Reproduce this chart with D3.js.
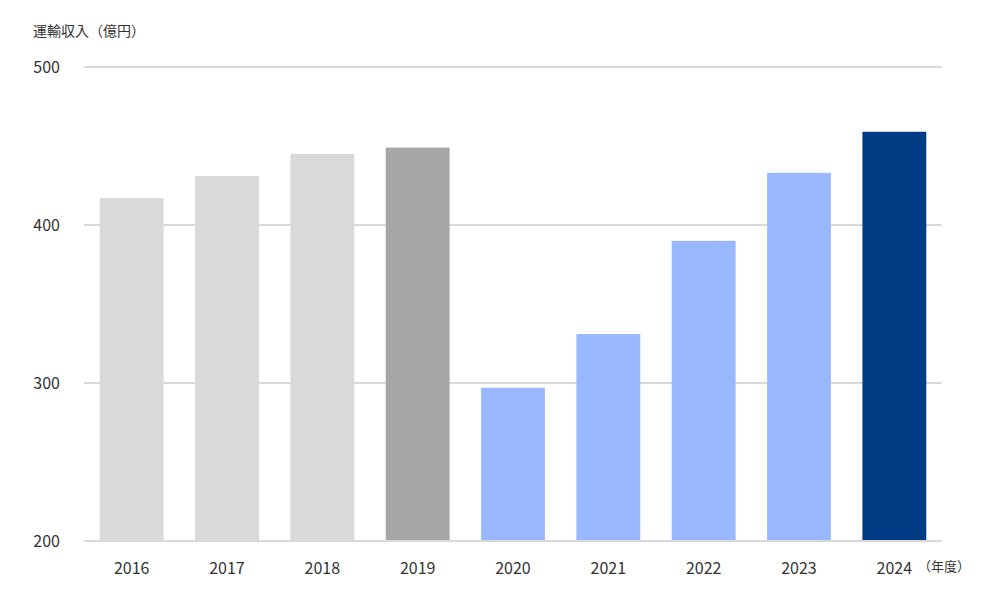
<!DOCTYPE html><html><head><meta charset="utf-8"><script src="https://cdn.jsdelivr.net/npm/d3@7"></script>
<style>body{margin:0;background:#fff}text{font-family:"Noto Sans CJK JP","Noto Sans",sans-serif;fill:#333}</style></head><body>
<svg id="c" width="990" height="606"></svg>
<script>
const years=["2016","2017","2018","2019","2020","2021","2022","2023","2024"];
const values=[417,431,445,449,297,331,390,433,459];
const colors=["#d9d9d9","#d9d9d9","#d9d9d9","#a6a6a6","#99b8ff","#99b8ff","#99b8ff","#99b8ff","#003b83"];
const yTicks=[200,300,400,500];
const svg=d3.select("#c");
const x=d3.scaleBand().domain(years).range([84,942]).paddingInner(0.33).paddingOuter(0.165);
const y=d3.scaleLinear().domain([200,500]).range([541,67]);
svg.selectAll("line.g").data(yTicks).enter().append("line").attr("x1",84).attr("x2",942)
 .attr("y1",d=>y(d)).attr("y2",d=>y(d)).attr("stroke","#d9d9d9").attr("stroke-width",2);
svg.selectAll("rect").data(values).enter().append("rect").attr("x",(d,i)=>x(years[i])).attr("width",x.bandwidth())
 .attr("y",d=>y(d)).attr("height",d=>y(200)-y(d)).attr("fill",(d,i)=>colors[i]);
svg.append("line").attr("x1",84).attr("x2",942).attr("y1",y(200)).attr("y2",y(200)).attr("stroke","#d9d9d9").attr("stroke-width",2);
svg.selectAll("text.y").data(yTicks).enter().append("text").attr("x",60).attr("y",d=>y(d)+6).attr("text-anchor","end").attr("font-size",16).text(d=>d);
svg.selectAll("text.x").data(years).enter().append("text").attr("x",d=>x(d)+x.bandwidth()/2).attr("y",574).attr("text-anchor","middle").attr("font-size",16).text(d=>d);
svg.append("text").attr("x",918).attr("y",571).attr("font-size",13).text("（年度）");
svg.append("text").attr("x",33).attr("y",36).attr("font-size",14).text("運輸収入（億円）");
</script></body></html>
